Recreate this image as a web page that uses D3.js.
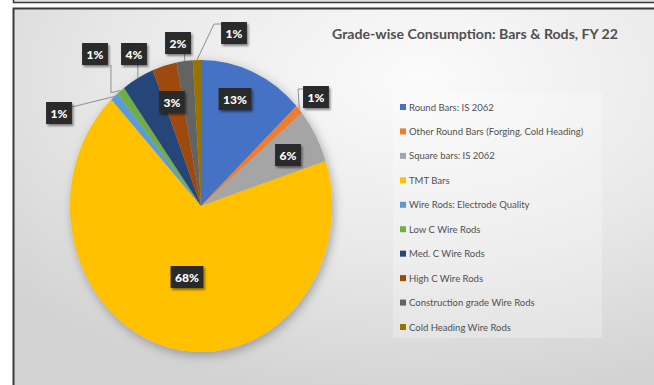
<!DOCTYPE html>
<html>
<head>
<meta charset="utf-8">
<script src="https://cdn.jsdelivr.net/npm/d3@7"></script>
<style>
  html, body { margin: 0; padding: 0; background: #fff; overflow: hidden; }
  svg { display: block; }
</style>
</head>
<body>
<svg id="chart" width="654" height="385"></svg>
<script>
// Grade-wise consumption of bars & rods, FY 22 (share of total, %)
const categories = [
  "Round Bars: IS 2062",
  "Other Round Bars (Forging, Cold Heading)",
  "Square bars: IS 2062",
  "TMT Bars",
  "Wire Rods: Electrode Quality",
  "Low C Wire Rods",
  "Med. C Wire Rods",
  "High C Wire Rods",
  "Construction grade Wire Rods",
  "Cold Heading Wire Rods"
];
const shares = [13, 1, 6, 68, 1, 1, 4, 3, 2, 1];
const sliceColors = ["#4472C4", "#ED7D31", "#A5A5A5", "#FFC000", "#5B9BD5",
                     "#70AD47", "#264478", "#9E480E", "#636363", "#997300"];
const title = "Grade-wise Consumption: Bars & Rods, FY 22";

const W = 654, H = 385;
const svg = d3.select("#chart");
const defs = svg.append("defs");

// page background
const bg = defs.append("radialGradient").attr("id", "bg")
  .attr("cx", "62%").attr("cy", "18%").attr("r", "85%");
bg.append("stop").attr("offset", "0%").attr("stop-color", "#fbfbfb");
bg.append("stop").attr("offset", "55%").attr("stop-color", "#e8e8e8");
bg.append("stop").attr("offset", "100%").attr("stop-color", "#d2d2d2");

const pieShadow = defs.append("filter").attr("id", "pieShadow")
  .attr("x", "-20%").attr("y", "-20%").attr("width", "140%").attr("height", "140%");
pieShadow.append("feDropShadow").attr("dx", 2).attr("dy", 3)
  .attr("stdDeviation", 5).attr("flood-color", "#000").attr("flood-opacity", 0.3);

const boxShadow = defs.append("filter").attr("id", "boxShadow")
  .attr("x", "-30%").attr("y", "-30%").attr("width", "160%").attr("height", "160%");
boxShadow.append("feDropShadow").attr("dx", 1.5).attr("dy", 2)
  .attr("stdDeviation", 1.3).attr("flood-color", "#000").attr("flood-opacity", 0.45);

// frame: strip of the panel above, then the chart panel
svg.append("rect").attr("x", 13.5).attr("y", -10).attr("width", W).attr("height", 12.5)
  .attr("fill", "#e2e2e2").attr("stroke", "#3a3a3a").attr("stroke-width", 1.5);
svg.append("rect").attr("x", 13.5).attr("y", 8.5).attr("width", W).attr("height", H)
  .attr("fill", "url(#bg)").attr("stroke", "#3a3a3a").attr("stroke-width", 2);

// title
svg.append("text")
  .attr("x", 332).attr("y", 38.5)
  .attr("font-family", "Lato, 'Open Sans', sans-serif")
  .attr("font-weight", 700).attr("font-size", 13.5)
  .attr("fill", "#4f4f4f")
  .attr("textLength", 286).attr("lengthAdjust", "spacingAndGlyphs")
  .text(title);

// pie geometry (drawn slightly taller than wide)
const cx = 201, cy = 206, rx = 131, ry = 146;
const pie = d3.pie().value(d => d).sort(null);
const arcs = pie(shares);
const arc = d3.arc().innerRadius(0).outerRadius(rx);

const pieG = svg.append("g")
  .attr("transform", `translate(${cx},${cy}) scale(1,${ry / rx})`)
  .attr("filter", "url(#pieShadow)");
pieG.selectAll("path").data(arcs).join("path")
  .attr("d", arc)
  .attr("fill", (d, i) => sliceColors[i]);

// point on the rim at a slice's mid angle
function rimPoint(d) {
  const a = (d.startAngle + d.endAngle) / 2;
  return [cx + rx * Math.sin(a), cy - ry * Math.cos(a)];
}

// label boxes: centre offset from the pie centre, and leader style
const labelLayout = [
  { dx: 34,   dy: -107, leader: null },
  { dx: 115,  dy: -109, leader: "elbowLeft" },
  { dx: 87,   dy: -51,  leader: null },
  { dx: -14,  dy: 71,   leader: null },
  { dx: -142, dy: -93,  leader: "straightRight" },
  { dx: -106, dy: -152, leader: "downRight" },
  { dx: -67,  dy: -152, leader: "down" },
  { dx: -29,  dy: -104, leader: null },
  { dx: -23,  dy: -163, leader: "down" },
  { dx: 33,   dy: -173, leader: "elbowLeftHigh" }
];

const leaderG = svg.append("g").attr("fill", "none")
  .attr("stroke", "#8f8f8f").attr("stroke-width", 1);
const labelG = svg.append("g");

arcs.forEach((d, i) => {
  const L = labelLayout[i];
  const bx = cx + L.dx, by = cy + L.dy;
  const g = labelG.append("g");
  const t = g.append("text")
    .attr("x", bx).attr("y", by)
    .attr("text-anchor", "middle").attr("dominant-baseline", "central")
    .attr("font-family", "Lato, 'Open Sans', sans-serif")
    .attr("font-weight", 900).attr("font-size", 12)
    .attr("fill", "#ffffff")
    .text(shares[i] + "%");
  const tw = t.node().getComputedTextLength();
  const bw = tw + 9, bh = 22;
  const x0 = bx - bw / 2, y0 = by - bh / 2;
  g.insert("rect", "text")
    .attr("x", x0).attr("y", y0).attr("width", bw).attr("height", bh)
    .attr("fill", "#2b2b2b").attr("filter", "url(#boxShadow)");

  const p = rimPoint(d);
  let pts = null;
  switch (L.leader) {
    case "elbowLeft":
      pts = [p, [x0 - 5, y0 + 3], [x0, y0 + 3]]; break;
    case "elbowLeftHigh":
      pts = [p, [x0 - 7, y0 + 2], [x0, y0 + 2]]; break;
    case "straightRight":
      pts = [[x0 + bw, y0 + 5], p]; break;
    case "downRight":
      pts = [[x0 + bw + 3, y0 + bh], [x0 + bw + 3, p[1] + 2], p]; break;
    case "down":
      pts = [[p[0], y0 + bh], p]; break;
  }
  if (pts) leaderG.append("path").attr("d", d3.line()(pts));
});

// legend
const legendG = svg.append("g");
legendG.append("rect").attr("x", 393).attr("y", 93).attr("width", 209).attr("height", 245)
  .attr("fill", "#ffffff").attr("opacity", 0.25);
const legendY = d3.scalePoint().domain(d3.range(categories.length)).range([107, 327]);
const items = legendG.selectAll("g.item").data(categories).join("g").attr("class", "item")
  .attr("transform", (d, i) => `translate(400,${legendY(i)})`);
items.append("rect").attr("x", 0).attr("y", -3).attr("width", 6).attr("height", 6)
  .attr("fill", (d, i) => sliceColors[i]);
items.append("text").attr("x", 9).attr("y", 0)
  .attr("dominant-baseline", "central")
  .attr("font-family", "Lato, sans-serif").attr("font-size", 9.5)
  .attr("fill", "#505050")
  .text(d => d);
</script>
</body>
</html>
